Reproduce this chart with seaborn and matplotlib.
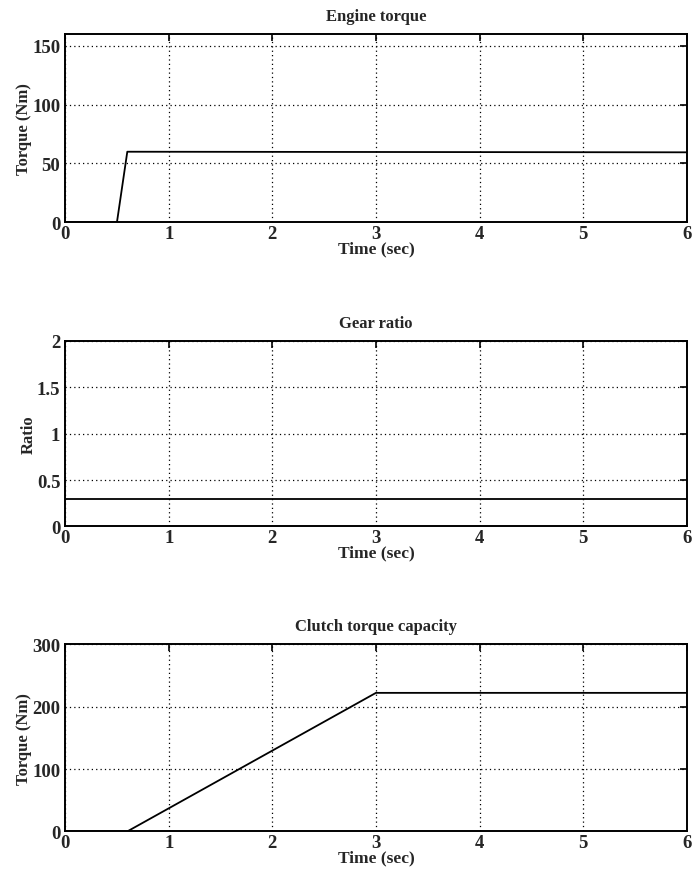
import matplotlib
matplotlib.use('Agg')
import matplotlib.pyplot as plt
import seaborn as sns
import pandas as pd

# values
engine_time = [0, 0.5, 0.6, 6]
engine_torque = [0, 0, 60, 59.5]

gear_time = [0, 6]
gear_ratio = [0.3, 0.3]

clutch_time = [0, 0.6, 3, 6]
clutch_torque = [0, 0, 222, 222]

titles = ['Engine torque', 'Gear ratio', 'Clutch torque capacity']
ylabels = ['Torque (Nm)', 'Ratio', 'Torque (Nm)']
yticks = [[0, 50, 100, 150], [0, 0.5, 1, 1.5, 2], [0, 100, 200, 300]]
yticklabels = [['0', '50', '100', '150'], ['0', '0.5', '1', '1.5', '2'], ['0', '100', '200', '300']]
ylims = [(0, 160), (0, 2), (0, 300)]
xticks = [0, 1, 2, 3, 4, 5, 6]

sns.set_theme(style='white')
plt.rcParams['font.family'] = ['Liberation Serif', 'DejaVu Serif']
plt.rcParams['font.weight'] = 'bold'

fig = plt.figure(figsize=(6.93, 8.79), dpi=100)
positions = [[0.094, 0.746, 0.897, 0.214],
             [0.094, 0.400, 0.897, 0.211],
             [0.094, 0.053, 0.897, 0.213]]

frames = [pd.DataFrame({'t': engine_time, 'v': engine_torque}),
          pd.DataFrame({'t': gear_time, 'v': gear_ratio}),
          pd.DataFrame({'t': clutch_time, 'v': clutch_torque})]

for i, df in enumerate(frames):
    ax = fig.add_axes(positions[i])
    sns.lineplot(data=df, x='t', y='v', ax=ax, color='black', linewidth=1.3)
    ax.set_xlim(0, 6)
    ax.set_ylim(*ylims[i])
    ax.set_xticks(xticks)
    ax.set_xticklabels([str(x) for x in xticks], fontsize=13.5, fontweight='bold')
    ax.set_yticks(yticks[i])
    ax.set_yticklabels(yticklabels[i], fontsize=13.5, fontweight='bold')
    ax.grid(True, linestyle=(0, (1, 2.5)), color='black', linewidth=0.9)
    ax.tick_params(direction='in', top=True, right=True, length=5, width=1.2,
                   color='black')
    ax.tick_params(axis='x', pad=2)
    ax.tick_params(axis='y', pad=3.5)
    for s in ax.spines.values():
        s.set_color('black')
        s.set_linewidth(1.4)
    ax.set_title(titles[i], fontsize=12, fontweight='bold', pad=10)
    ax.set_xlabel('Time (sec)', fontsize=12.5, fontweight='bold', labelpad=-1)
    ax.set_ylabel(ylabels[i], fontsize=12, fontweight='bold', labelpad=0)

fig.savefig('out.png', dpi=100, facecolor='white')
